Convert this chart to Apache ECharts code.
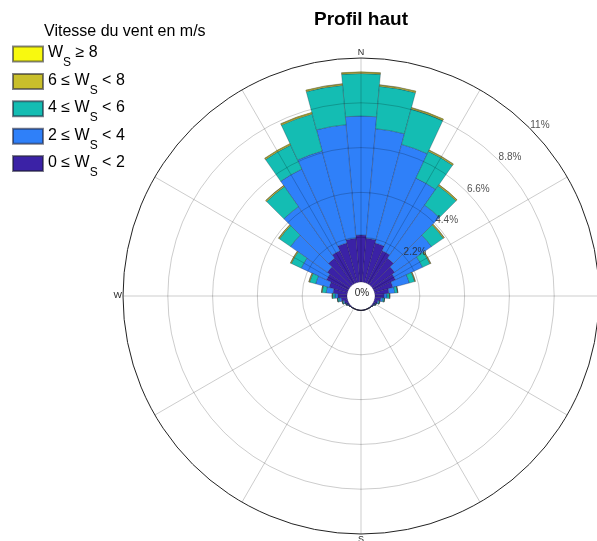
<!DOCTYPE html>
<html>
<head>
<meta charset="utf-8">
<script src="https://cdn.jsdelivr.net/npm/echarts@6/dist/echarts.min.js"></script>
<style>
  html, body { margin: 0; padding: 0; background: #ffffff; }
  #chart { width: 597px; height: 541px; }
</style>
</head>
<body>
<div id="chart"></div>
<script>
// Wind direction sectors (degrees from north, clockwise), 10° each
const directions = ['0', '10', '20', '30', '40', '50', '60', '70', '80', '90', '100', '110',
  '120', '130', '140', '150', '160', '170', '180', '190', '200', '210', '220', '230',
  '240', '250', '260', '270', '280', '290', '300', '310', '320', '330', '340', '350'];

// Frequency (%) of each wind-speed class per direction sector
const speed0to2 = [2.31, 2.16, 2.01, 1.77, 1.57, 1.33, 1.18, 0.93, 0.69, 0.44, 0.29, 0.17,
  0.10, 0.05, 0.03, 0.02, 0.02, 0.02, 0.02, 0.02, 0.02, 0.02, 0.03, 0.05,
  0.10, 0.17, 0.29, 0.44, 0.69, 0.93, 1.18, 1.33, 1.57, 1.77, 2.01, 2.16];
const speed2to4 = [5.84, 5.40, 5.01, 3.93, 3.19, 2.21, 1.47, 0.84, 0.29, 0.15, 0.10, 0.05,
  0.02, 0.01, 0.01, 0, 0, 0, 0, 0, 0, 0, 0.01, 0.01,
  0.02, 0.05, 0.10, 0.15, 0.34, 0.69, 1.37, 2.21, 3.10, 4.42, 4.67, 5.60];
const speed4to6 = [2.09, 2.09, 1.80, 1.45, 1.16, 0.71, 0.40, 0.27, 0.13, 0.12, 0.08, 0.05,
  0.03, 0.01, 0, 0, 0, 0, 0, 0, 0, 0, 0, 0.01,
  0.03, 0.05, 0.08, 0.12, 0.20, 0.30, 0.54, 0.66, 1.20, 1.30, 1.89, 1.94];
const speed6to8 = [0.06, 0.06, 0.06, 0.06, 0.06, 0.05, 0.04, 0.03, 0.02, 0.02, 0.01, 0.01,
  0, 0, 0, 0, 0, 0, 0, 0, 0, 0, 0, 0,
  0, 0.01, 0.01, 0.02, 0.03, 0.04, 0.04, 0.05, 0.06, 0.06, 0.06, 0.06];
const speed8plus = [0.02, 0.02, 0.02, 0.02, 0.01, 0.01, 0.01, 0.01, 0, 0, 0, 0,
  0, 0, 0, 0, 0, 0, 0, 0, 0, 0, 0, 0,
  0, 0, 0, 0, 0, 0.01, 0.01, 0.01, 0.01, 0.02, 0.02, 0.02];

// Radial grid ticks and their labels
const ringValues = [2.2, 4.4, 6.6, 8.8, 11];
const ringLabels = ['2.2%', '4.4%', '6.6%', '8.8%', '11%'];
const compassLabels = { 0: 'N', 90: 'E', 180: 'S', 270: 'W' };

// Speed classes, bottom of the stack first
const classNames = ['0 ≤ Ws < 2', '2 ≤ Ws < 4', '4 ≤ Ws < 6', '6 ≤ Ws < 8', 'Ws ≥ 8'];
const classData = [speed0to2, speed2to4, speed4to6, speed6to8, speed8plus];
const classColors = ['#3b22a6', '#2f80f9', '#14bdb3', '#c9bf2b', '#f8f90f'];
const classLegend = {
  '0 ≤ Ws < 2': '{m|0 ≤ W}{s|S}{m| < 2}',
  '2 ≤ Ws < 4': '{m|2 ≤ W}{s|S}{m| < 4}',
  '4 ≤ Ws < 6': '{m|4 ≤ W}{s|S}{m| < 6}',
  '6 ≤ Ws < 8': '{m|6 ≤ W}{s|S}{m| < 8}',
  'Ws ≥ 8': '{m|W}{s|S}{m| ≥ 8}'
};

const CENTER = [361, 296];
const R_INNER = 14;
const R_OUTER = 238;
const FONT = 'Liberation Sans, Arial, Helvetica, sans-serif';

const chart = echarts.init(document.getElementById('chart'), null, { renderer: 'canvas' });

const barSeries = classNames.map((name, i) => ({
  type: 'bar',
  name: name,
  coordinateSystem: 'polar',
  polarIndex: 0,
  stack: 'rose',
  barCategoryGap: '0%',
  data: classData[i],
  itemStyle: {
    color: classColors[i],
    borderColor: 'rgba(25,25,45,0.55)',
    borderWidth: 0.5
  },
  emphasis: { disabled: true },
  z: 2
}));

const option = {
  animation: false,
  backgroundColor: '#ffffff',
  textStyle: { fontFamily: FONT },
  title: [
    {
      text: 'Profil haut',
      left: CENTER[0],
      textAlign: 'center',
      top: 10,
      padding: 0,
      textStyle: { fontFamily: FONT, fontSize: 19, fontWeight: 'bold', color: '#000' }
    },
    {
      text: 'Vitesse du vent en m/s',
      left: 44,
      top: 24,
      padding: 0,
      textStyle: { fontFamily: FONT, fontSize: 16, fontWeight: 'normal', color: '#000' }
    }
  ],
  legend: {
    orient: 'vertical',
    left: 12,
    top: 45,
    padding: 0,
    itemWidth: 30,
    itemHeight: 15,
    itemGap: 3.4,
    icon: 'rect',
    selectedMode: false,
    data: classNames.slice().reverse(),
    formatter: (name) => classLegend[name],
    textStyle: {
      fontFamily: FONT,
      color: '#000',
      rich: {
        m: { fontFamily: FONT, fontSize: 16, lineHeight: 18, verticalAlign: 'top', color: '#000' },
        s: { fontFamily: FONT, fontSize: 12, lineHeight: 18, verticalAlign: 'top', color: '#000', padding: [12, 0, 0, 0] }
      }
    }
  },
  polar: [
    { center: CENTER, radius: [R_INNER, R_OUTER] },
    { center: CENTER, radius: [R_INNER, R_OUTER] }
  ],
  angleAxis: [
    {
      polarIndex: 0,
      type: 'category',
      data: directions,
      startAngle: 95,
      clockwise: true,
      boundaryGap: true,
      axisLine: { show: false },
      axisTick: { show: false },
      axisLabel: { show: false },
      splitLine: { show: false }
    },
    {
      polarIndex: 1,
      type: 'value',
      min: 0,
      max: 360,
      interval: 30,
      startAngle: 90,
      clockwise: true,
      z: 5,
      axisLine: { show: false },
      axisTick: { show: false },
      axisLabel: {
        show: true,
        margin: 1,
        fontSize: 9,
        color: '#262626',
        fontFamily: FONT,
        formatter: (v) => compassLabels[v] || ''
      },
      splitLine: { show: true, lineStyle: { color: 'rgba(0,0,0,0.2)', width: 1 } }
    }
  ],
  radiusAxis: [
    {
      polarIndex: 0,
      type: 'value',
      min: 0,
      max: 11,
      interval: 2.2,
      axisLine: { show: false },
      axisTick: { show: false },
      axisLabel: { show: false },
      splitLine: { show: false }
    },
    {
      polarIndex: 1,
      type: 'value',
      min: 0,
      max: 11,
      interval: 2.2,
      z: 5,
      axisLine: { show: false },
      axisTick: { show: false },
      axisLabel: { show: false },
      splitLine: {
        show: true,
        lineStyle: {
          color: ['rgba(0,0,0,0)', 'rgba(0,0,0,0.2)', 'rgba(0,0,0,0.2)', 'rgba(0,0,0,0.2)', 'rgba(0,0,0,0.2)', '#222222'],
          width: 1
        }
      }
    }
  ],
  graphic: [
    {
      type: 'text',
      x: CENTER[0] + 1,
      y: CENTER[1] - 3,
      z: 10,
      style: {
        text: '0%',
        fontSize: 10,
        fontFamily: FONT,
        fill: '#262626',
        align: 'center',
        verticalAlign: 'middle'
      }
    }
  ],
  series: barSeries.concat([
    {
      type: 'scatter',
      name: 'rings',
      coordinateSystem: 'polar',
      polarIndex: 1,
      symbolSize: 0,
      z: 6,
      silent: true,
      data: ringValues.map((v) => [v, 45]),
      label: {
        show: true,
        position: [1, -7],
        fontSize: 10,
        fontFamily: FONT,
        color: '#262626',
        formatter: (p) => ringLabels[p.dataIndex]
      }
    }
  ])
};

chart.setOption(option);
</script>
</body>
</html>
